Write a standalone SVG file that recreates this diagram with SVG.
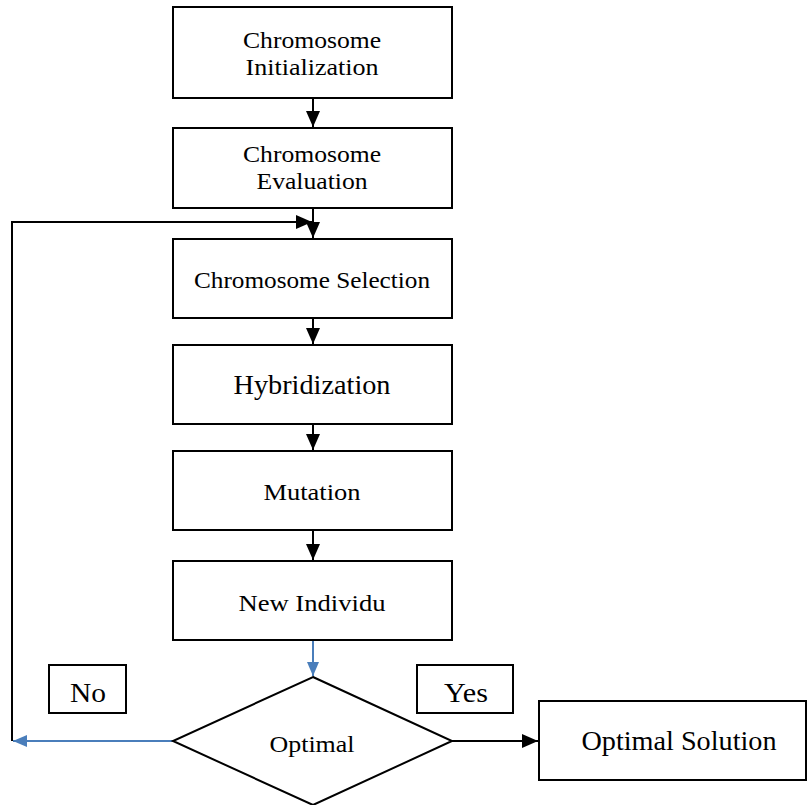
<svg xmlns="http://www.w3.org/2000/svg" width="807" height="805" viewBox="0 0 807 805">
<style>
.box{fill:#fff;stroke:#000;stroke-width:2}
.t{font-family:"Liberation Serif","Times New Roman",serif;fill:#000;text-anchor:middle}
.s{font-size:24px}
.b{font-size:27px}
.k{stroke:#000;stroke-width:2;fill:none}
.bl{stroke:#4a7ebb;stroke-width:2;fill:none}
</style>
<defs>
<marker id="ab" markerWidth="14" markerHeight="12" refX="14" refY="6" orient="auto" markerUnits="userSpaceOnUse" viewBox="0 0 14 12"><path d="M0,0 L14,6 L0,12 z" fill="#4a7ebb"/></marker>
<marker id="ak2" markerWidth="16" markerHeight="14" refX="16" refY="7" orient="auto" markerUnits="userSpaceOnUse" viewBox="0 0 16 14"><path d="M0,0 L16,7 L0,14 z" fill="#000"/></marker>
</defs>
<g id="connectors">
<line class="k" x1="313" y1="98" x2="313" y2="127" marker-end="url(#ak2)"/>
<line class="k" x1="313" y1="208" x2="313" y2="238" marker-end="url(#ak2)"/>
<line class="k" x1="313" y1="318" x2="313" y2="344" marker-end="url(#ak2)"/>
<line class="k" x1="313" y1="424" x2="313" y2="450" marker-end="url(#ak2)"/>
<line class="k" x1="313" y1="530" x2="313" y2="560" marker-end="url(#ak2)"/>
<line class="bl" x1="313" y1="640" x2="313" y2="676" marker-end="url(#ab)"/>
<line class="bl" x1="173" y1="741" x2="13" y2="741" marker-end="url(#ab)"/>
<polyline class="k" points="12,741 12,222 312,222" marker-end="url(#ak2)"/>
<line class="k" x1="452" y1="741" x2="538" y2="741" marker-end="url(#ak2)"/>
</g>
<g id="n1"><rect class="box" x="173" y="7" width="279" height="91"/>
<text class="t s" x="312" y="48" textLength="138" lengthAdjust="spacingAndGlyphs">Chromosome</text>
<text class="t s" x="312" y="75" textLength="133" lengthAdjust="spacingAndGlyphs">Initialization</text></g>
<g id="n2"><rect class="box" x="173" y="128" width="279" height="80"/>
<text class="t s" x="312" y="162" textLength="138" lengthAdjust="spacingAndGlyphs">Chromosome</text>
<text class="t s" x="312" y="189" textLength="111" lengthAdjust="spacingAndGlyphs">Evaluation</text></g>
<g id="n3"><rect class="box" x="173" y="239" width="279" height="79"/>
<text class="t s" x="312" y="288" textLength="236" lengthAdjust="spacingAndGlyphs">Chromosome Selection</text></g>
<g id="n4"><rect class="box" x="173" y="345" width="279" height="79"/>
<text class="t b" x="312" y="394" textLength="157" lengthAdjust="spacingAndGlyphs">Hybridization</text></g>
<g id="n5"><rect class="box" x="173" y="451" width="279" height="79"/>
<text class="t s" x="312" y="500" textLength="97" lengthAdjust="spacingAndGlyphs">Mutation</text></g>
<g id="n6"><rect class="box" x="173" y="561" width="279" height="79"/>
<text class="t s" x="312" y="611" textLength="147" lengthAdjust="spacingAndGlyphs">New Individu</text></g>
<g id="n7"><polygon class="box" points="313,677 452,741 313,805 173,741"/>
<text class="t s" x="312" y="752" textLength="85" lengthAdjust="spacingAndGlyphs">Optimal</text></g>
<g id="n8"><rect class="box" x="539" y="701" width="267" height="79"/>
<text class="t b" x="679" y="750" textLength="195" lengthAdjust="spacingAndGlyphs">Optimal Solution</text></g>
<g id="no"><rect class="box" x="49" y="665" width="77" height="48"/>
<text class="t b" x="88" y="702" textLength="36" lengthAdjust="spacingAndGlyphs">No</text></g>
<g id="yes"><rect class="box" x="417" y="665" width="96" height="48"/>
<text class="t b" x="466" y="702" textLength="44" lengthAdjust="spacingAndGlyphs">Yes</text></g>
</svg>
